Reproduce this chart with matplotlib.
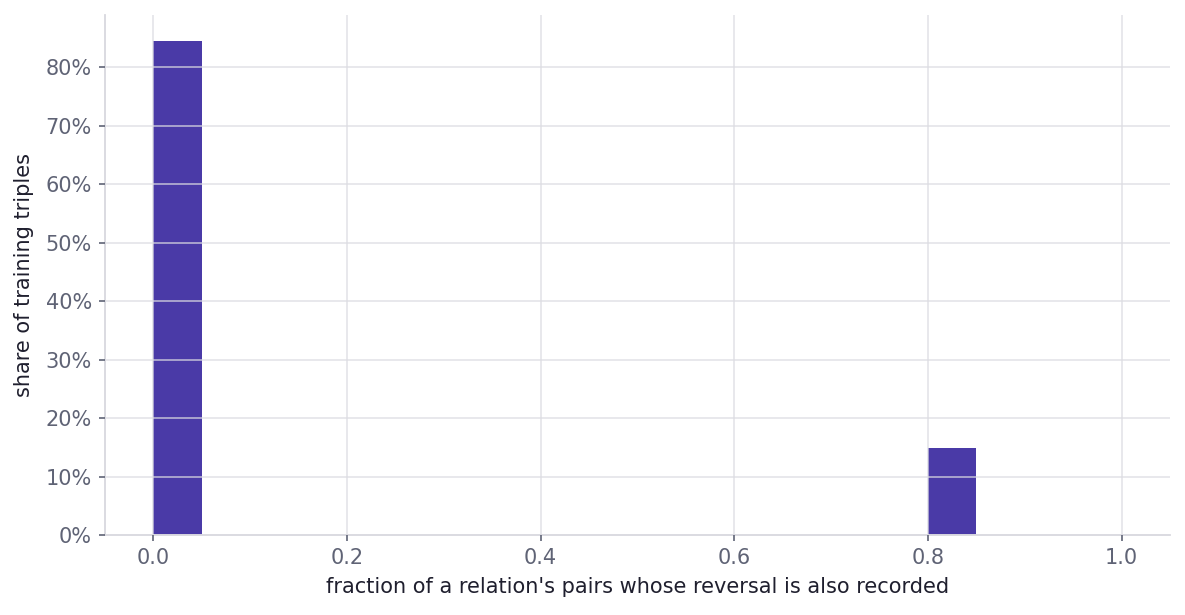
import numpy as np
import matplotlib
matplotlib.use("Agg")
import matplotlib.pyplot as plt
from matplotlib.ticker import PercentFormatter

# histogram bins (left edges, width 0.05) and share of training triples per bin
bin_left = [0.00, 0.05, 0.10, 0.15, 0.20, 0.25, 0.30, 0.35, 0.40, 0.45,
            0.50, 0.55, 0.60, 0.65, 0.70, 0.75, 0.80, 0.85, 0.90, 0.95]
share = [0.845, 0.0, 0.0, 0.0, 0.0, 0.0, 0.0, 0.0, 0.0, 0.0,
         0.0, 0.0, 0.0, 0.0, 0.0, 0.0, 0.149, 0.0, 0.0, 0.0]
bin_width = 0.05

bar_color = '#4a3aa7'
tick_color = '#5f6375'
label_color = '#1f1f2e'
grid_color = '#dcdce2'

fig = plt.figure(figsize=(11.85, 6.15), dpi=100)
ax = fig.add_axes([105/1185, 80/615, (1170-105)/1185, (535-15)/615])

ax.bar(bin_left, share, width=bin_width, align='edge', color=bar_color, zorder=1)

ax.set_xlim(-0.05, 1.05)
ax.set_ylim(0, 0.889)
ax.set_xticks([0.0, 0.2, 0.4, 0.6, 0.8, 1.0])
ax.set_yticks(np.arange(0, 0.81, 0.1))
ax.yaxis.set_major_formatter(PercentFormatter(1.0, decimals=0))

ax.grid(True, color=grid_color, linewidth=1.3, alpha=0.7, zorder=2)
ax.set_axisbelow(False)

for side in ['top', 'right']:
    ax.spines[side].set_visible(False)
for side in ['left', 'bottom']:
    ax.spines[side].set_color('#d8d8de')
    ax.spines[side].set_linewidth(1.3)

ax.tick_params(colors=tick_color, labelsize=15, length=4.5, width=1.2, pad=5)
ax.set_xlabel("fraction of a relation's pairs whose reversal is also recorded",
              fontsize=15, color=label_color, labelpad=6)
ax.set_ylabel('share of training triples', fontsize=15, color=label_color, labelpad=8)

fig.savefig('out.png', dpi=100)
